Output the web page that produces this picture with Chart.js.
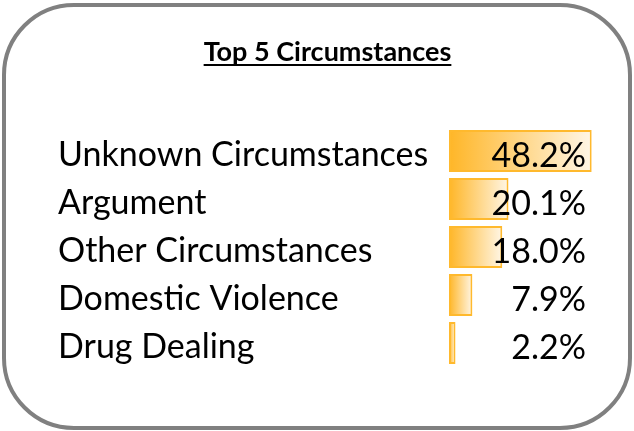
<!DOCTYPE html>
<html>
<head>
<meta charset="utf-8">
<script src="https://cdn.jsdelivr.net/npm/chart.js@4"></script>
<style>
  html, body { margin: 0; padding: 0; background: #fff; }
  #wrap { position: relative; width: 634px; height: 431px; }
  #frame {
    position: absolute; left: 2px; top: 3px; width: 622px; height: 419px;
    border: 4px solid #808080; border-radius: 72px;
  }
  #c { position: absolute; left: 0; top: 0; }
</style>
</head>
<body>
<div id="wrap">
  <div id="frame"></div>
  <canvas id="c" width="634" height="431"></canvas>
</div>
<script>
// data
const circumstances = ['Unknown Circumstances', 'Argument', 'Other Circumstances', 'Domestic Violence', 'Drug Dealing']
const shares = [48.2, 20.1, 18.0, 7.9, 2.2]
const titleText = 'Top 5 Circumstances'

const labelFont = { family: 'Lato, "Open Sans", sans-serif', size: 34 }
const titleSize = 27

// gradient for each bar, from its base to its end
function barFill(ctx){
    const chart = ctx.chart
    const x = chart.scales.x
    if(!chart.chartArea || !x || ctx.dataIndex == null) return '#ffb92d'
    const v = shares[ctx.dataIndex]
    const x0 = x.getPixelForValue(0)
    const x1 = x.getPixelForValue(v)
    const g = chart.ctx.createLinearGradient(x0, 0, Math.max(x1, x0 + 1), 0)
    g.addColorStop(0, '#ffb627')
    g.addColorStop(1, '#fff6e6')
    return g
}

// underline under the title, values on the right
const extras = {
    id: 'extras',
    afterDraw(chart){
        const c = chart.ctx
        const tb = chart.titleBlock
        c.save()
        c.font = `bold ${titleSize}px Lato, "Open Sans", sans-serif`
        const w = c.measureText(titleText).width
        const cx = (tb.left + tb.right) / 2
        const y = 65
        c.strokeStyle = '#000'
        c.lineWidth = 2
        c.beginPath()
        c.moveTo(cx - w / 2, y)
        c.lineTo(cx + w / 2, y)
        c.stroke()

        const meta = chart.getDatasetMeta(0)
        c.font = `${labelFont.size}px ${labelFont.family}`
        c.fillStyle = '#000'
        c.textAlign = 'right'
        c.textBaseline = 'middle'
        meta.data.forEach((bar, i) => {
            c.fillText(shares[i].toFixed(1) + '%', 586, bar.y + 5)
        })
        c.restore()
    }
}

new Chart(document.getElementById('c'), {
    type: 'bar',
    data: {
        labels: circumstances,
        datasets: [{
            data: shares,
            backgroundColor: barFill,
            borderColor: '#ffb92d',
            borderWidth: 2,
            borderSkipped: false,
            barPercentage: 0.875,
            categoryPercentage: 1
        }]
    },
    options: {
        indexAxis: 'y',
        responsive: false,
        animation: false,
        layout: { padding: { left: 58, right: 37, top: 0, bottom: 64 } },
        plugins: {
            legend: { display: false },
            tooltip: { enabled: false },
            title: {
                display: true,
                text: titleText,
                color: '#000',
                font: { family: 'Lato, "Open Sans", sans-serif', size: titleSize, weight: 'bold', lineHeight: 1.2 },
                padding: { top: 36, bottom: 58.6 }
            }
        },
        scales: {
            x: { display: false, min: 0, max: 50 },
            y: {
                grid: { display: false, drawTicks: false },
                border: { display: false },
                ticks: { color: '#000', font: labelFont, crossAlign: 'far', padding: 0, labelOffset: 4 },
                afterFit(s){ s.width = 391 }
            }
        }
    },
    plugins: [extras]
})
</script>
</body>
</html>
